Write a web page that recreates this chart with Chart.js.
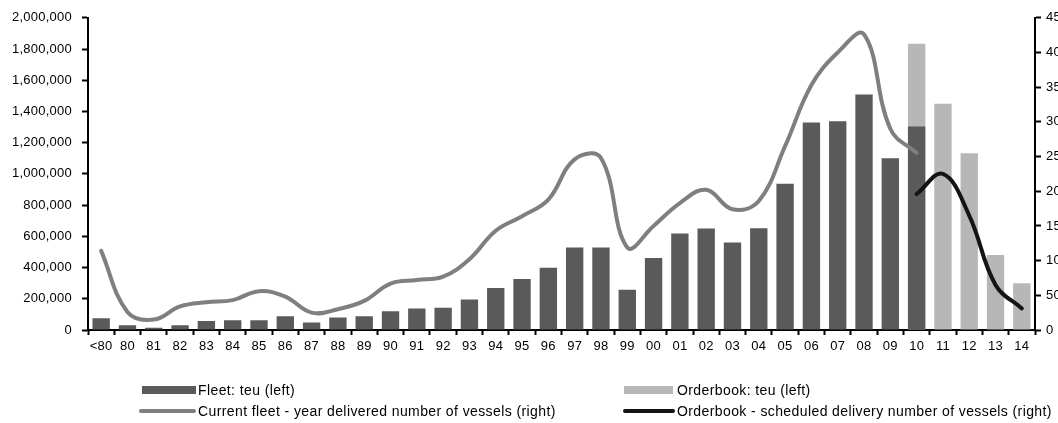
<!DOCTYPE html>
<html>
<head>
<meta charset="utf-8">
<title>Container fleet and orderbook</title>
<script src="https://cdn.jsdelivr.net/npm/chart.js@4.4.1/dist/chart.umd.min.js"></script>
<style>
  html, body { margin: 0; padding: 0; background: #fff; }
  #wrap { position: relative; width: 1058px; height: 423px; overflow: hidden; }
  #c { position: absolute; left: 0; top: 0; }
  .lg-text { position: absolute; font: 14px "Liberation Sans", Arial, sans-serif; color: #000;
             white-space: nowrap; line-height: 16px; letter-spacing: 0.4px; }
  .lg-swatch { position: absolute; }
</style>
</head>
<body>
<div id="wrap">
  <canvas id="c" width="1058" height="423"></canvas>
  <div id="legend"></div>
</div>
<script>
// Delivery year buckets
const categories = ['<80', '80', '81', '82', '83', '84', '85', '86', '87', '88', '89',
  '90', '91', '92', '93', '94', '95', '96', '97', '98', '99',
  '00', '01', '02', '03', '04', '05', '06', '07', '08', '09', '10',
  '11', '12', '13', '14'];

// Fleet capacity by year built (teu, left axis)
const fleetTeu = [75000, 30000, 15000, 30000, 57000, 63000, 63000, 88000, 48000, 80000, 88000,
  120000, 137000, 143000, 195000, 269000, 326000, 398000, 529000, 529000, 258000,
  461000, 618000, 650000, 561000, 652000, 937000, 1329000, 1338000, 1509000, 1100000, 1304000,
  null, null, null, null];

// Orderbook capacity by scheduled delivery year (teu, left axis)
const orderbookTeu = [null, null, null, null, null, null, null, null, null, null, null,
  null, null, null, null, null, null, null, null, null, null,
  null, null, null, null, null, null, null, null, null, null, 1833000,
  1450000, 1132000, 480000, 300000];

// Current fleet: number of vessels by year delivered (right axis)
const fleetVessels = [114, 26, 15, 34, 40, 43, 56, 48, 25, 30, 42,
  67, 72, 77, 102, 143, 164, 188, 246, 248, 119,
  150, 183, 202, 174, 186, 265, 353, 400, 426, 290, 255,
  null, null, null, null];

// Orderbook: number of vessels by scheduled delivery year (right axis)
const orderbookVessels = [null, null, null, null, null, null, null, null, null, null, null,
  null, null, null, null, null, null, null, null, null, null,
  null, null, null, null, null, null, null, null, null, null, 196,
  225, 165, 65, 31];

// Axis ranges
const teuAxis = { min: 0, max: 2000000, step: 200000 };
const vesselAxis = { min: 0, max: 450, step: 50 };

const FONT = '"Liberation Sans", Arial, sans-serif';
const C_FLEET_BAR = '#5a5a5a';
const C_ORDER_BAR = '#b7b7b7';
const C_FLEET_LINE = '#7f7f7f';
const C_ORDER_LINE = '#141414';

const tickFont = { family: FONT, size: 13 };

const axisGrid = {
  drawOnChartArea: false,
  drawTicks: true,
  tickLength: 6,
  tickColor: '#000',
  tickWidth: 2
};

// Slightly looser tracking for the axis labels
const trackingPlugin = {
  id: 'tracking',
  beforeDraw(chart) { chart.ctx.letterSpacing = '0.25px'; }
};

const datasets = [
  {
    type: 'line',
    label: 'Current fleet - year delivered number of vessels (right)',
    data: fleetVessels,
    yAxisID: 'y1',
    borderColor: C_FLEET_LINE,
    backgroundColor: C_FLEET_LINE,
    borderWidth: 4,
    borderCapStyle: 'round',
    pointRadius: 0,
    tension: 0.4,
    order: 0,
    legendRow: 1, legendCol: 0, legendKind: 'line'
  },
  {
    type: 'line',
    label: 'Orderbook - scheduled delivery number of vessels (right)',
    data: orderbookVessels,
    yAxisID: 'y1',
    borderColor: C_ORDER_LINE,
    backgroundColor: C_ORDER_LINE,
    borderWidth: 4,
    borderCapStyle: 'round',
    pointRadius: 0,
    tension: 0.4,
    order: 0,
    legendRow: 1, legendCol: 1, legendKind: 'line'
  },
  {
    type: 'bar',
    label: 'Fleet: teu (left)',
    data: fleetTeu,
    yAxisID: 'y',
    stack: 'teu',
    backgroundColor: C_FLEET_BAR,
    barPercentage: 0.66,
    categoryPercentage: 1,
    order: 1,
    legendRow: 0, legendCol: 0, legendKind: 'box'
  },
  {
    type: 'bar',
    label: 'Orderbook: teu (left)',
    data: orderbookTeu,
    yAxisID: 'y',
    stack: 'teu',
    backgroundColor: C_ORDER_BAR,
    barPercentage: 0.66,
    categoryPercentage: 1,
    order: 2,
    legendRow: 0, legendCol: 1, legendKind: 'box'
  }
];

const chart = new Chart(document.getElementById('c'), {
  data: { labels: categories, datasets: datasets },
  plugins: [trackingPlugin],
  options: {
    responsive: false,
    animation: false,
    devicePixelRatio: 1,
    layout: { padding: { top: 15, left: 0, right: 0, bottom: 68 } },
    plugins: {
      legend: { display: false },
      tooltip: { enabled: false }
    },
    scales: {
      x: {
        stacked: true,
        offset: true,
        grid: Object.assign({}, axisGrid, { offset: true, tickLength: 5 }),
        border: { color: '#000', width: 2 },
        ticks: { color: '#000', font: tickFont, padding: 4, maxRotation: 0, autoSkip: false },
        afterFit: s => { s.height = 25; }
      },
      y: {
        position: 'left',
        stacked: false,
        min: teuAxis.min,
        max: teuAxis.max,
        grid: axisGrid,
        border: { color: '#000', width: 2 },
        ticks: {
          stepSize: teuAxis.step,
          color: '#000',
          font: tickFont,
          padding: 10,
          callback: v => Number(v).toLocaleString('en-US')
        },
        afterFit: s => { s.width = 88; }
      },
      y1: {
        position: 'right',
        min: vesselAxis.min,
        max: vesselAxis.max,
        grid: axisGrid,
        border: { color: '#000', width: 2 },
        ticks: {
          stepSize: vesselAxis.step,
          color: '#000',
          font: tickFont,
          padding: 5
        },
        afterFit: s => { s.width = 23; }
      }
    }
  }
});

// Two-column legend below the plot
const legendEl = document.getElementById('legend');
const colX = [
  { box: 142, boxW: 54, line: 139, lineW: 57, text: 198 },
  { box: 624, boxW: 49, line: 623, lineW: 52, text: 677 }
];
const rowY = [390, 411];
datasets.forEach(ds => {
  const col = colX[ds.legendCol];
  const cy = rowY[ds.legendRow];
  const sw = document.createElement('div');
  sw.className = 'lg-swatch';
  if (ds.legendKind === 'box') {
    sw.style.left = col.box + 'px';
    sw.style.top = (cy - 4) + 'px';
    sw.style.width = col.boxW + 'px';
    sw.style.height = '8px';
    sw.style.background = ds.backgroundColor;
  } else {
    sw.style.left = col.line + 'px';
    sw.style.top = (cy - 2) + 'px';
    sw.style.width = col.lineW + 'px';
    sw.style.height = '4px';
    sw.style.borderRadius = '2px';
    sw.style.background = ds.borderColor;
  }
  legendEl.appendChild(sw);
  const tx = document.createElement('div');
  tx.className = 'lg-text';
  tx.style.left = col.text + 'px';
  tx.style.top = (cy - 8) + 'px';
  tx.textContent = ds.label;
  legendEl.appendChild(tx);
});
</script>
</body>
</html>
